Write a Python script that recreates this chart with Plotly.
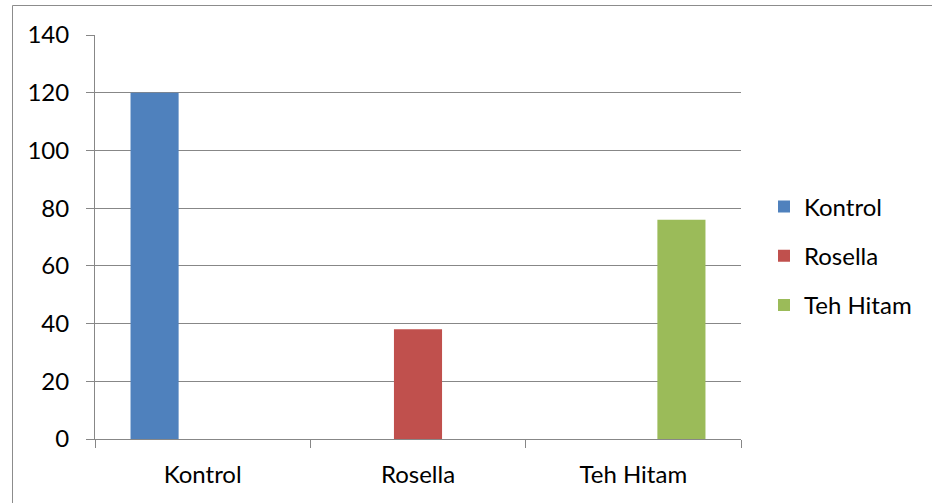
import plotly.graph_objects as go

categories = ["Kontrol", "Rosella", "Teh Hitam"]
series_names = ["Kontrol", "Rosella", "Teh Hitam"]
kontrol_values = [120, None, None]
rosella_values = [None, 38, None]
teh_hitam_values = [None, None, 76]
y_ticks = [0, 20, 40, 60, 80, 100, 120, 140]

colors = ["#4F81BD", "#C0504D", "#9BBB59"]
series_values = [kontrol_values, rosella_values, teh_hitam_values]

W, H = 932, 503
L, R, T, B = 95, 191, 35, 64
pw, ph = W - L - R, H - T - B

fig = go.Figure()
for name, vals, col in zip(series_names, series_values, colors):
    fig.add_trace(go.Bar(x=categories, y=vals, name=name, marker_color=col,
                         marker_line_width=0, legendgroup=name))

font = dict(family="Lato, Open Sans, sans-serif", size=24, color="#000000")
grid = "#878787"

def px_x(px):
    return (px - L) / pw

def px_y(py):
    return (H - B - py) / ph

fig.update_layout(
    width=W, height=H,
    margin=dict(l=L, r=R, t=T, b=B),
    paper_bgcolor="white", plot_bgcolor="white",
    barmode="group", bargap=0.33, bargroupgap=0,
    font=font,
    showlegend=True,
    legend=dict(x=px_x(764), xanchor="left", y=px_y(256), yanchor="middle",
                tracegroupgap=15, font=font, bgcolor="rgba(0,0,0,0)"),
    xaxis=dict(type="category", showline=True, linecolor=grid, linewidth=1,
               ticks="outside", ticklen=8, tickcolor=grid, tickwidth=1,
               tickson="boundaries", showgrid=False, ticklabelstandoff=14),
    yaxis=dict(range=[0, 140], tickvals=y_ticks, showline=True, linecolor=grid,
               linewidth=1, ticks="outside", ticklen=8, tickcolor=grid,
               tickwidth=1, showgrid=True, gridcolor=grid, gridwidth=1,
               zeroline=False, ticklabelstandoff=12),
    shapes=[dict(type="rect", xref="paper", yref="paper",
                 x0=px_x(12.5), x1=px_x(945), y0=px_y(5.5), y1=px_y(515),
                 line=dict(color="#8C8C8C", width=1), fillcolor="rgba(0,0,0,0)",
                 layer="below")],
)

fig.write_html("out.html")
